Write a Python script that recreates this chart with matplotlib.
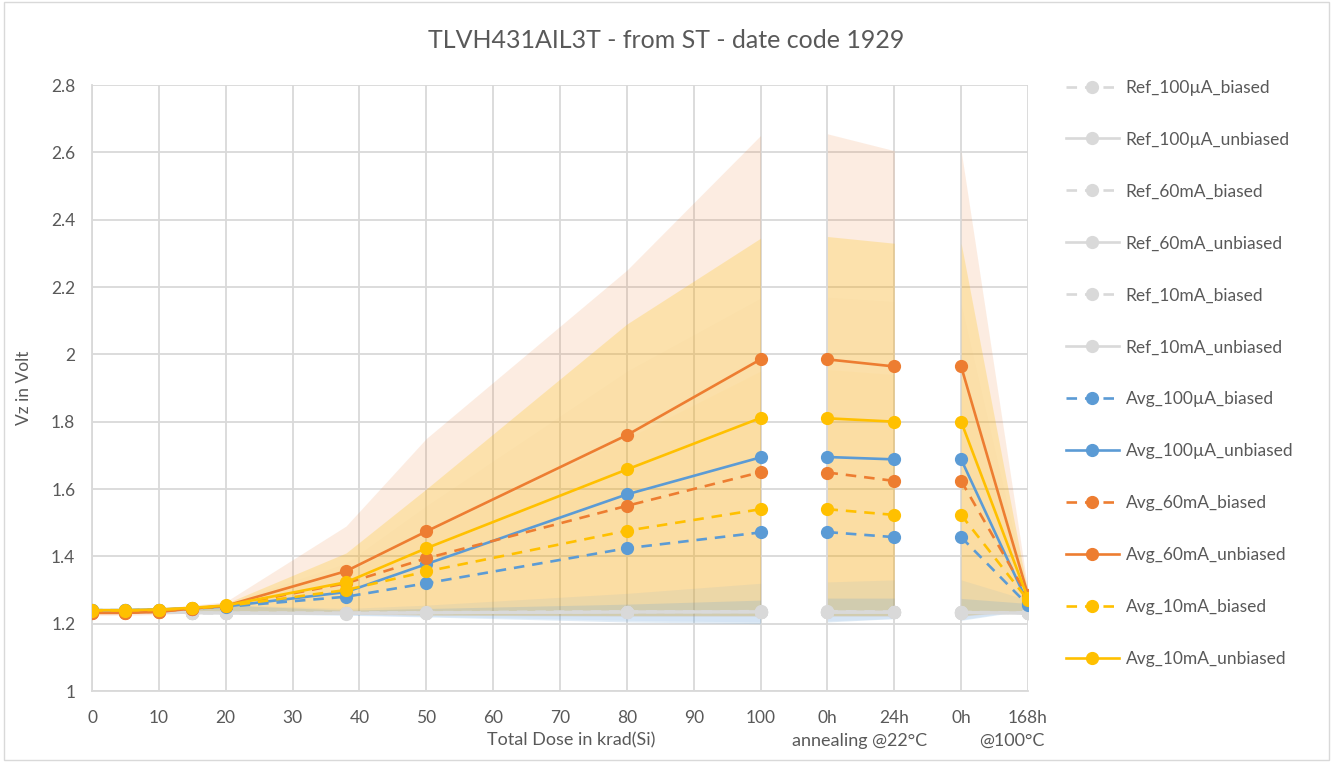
import numpy as np
import matplotlib
matplotlib.use("Agg")
import matplotlib.pyplot as plt
from matplotlib.patches import Rectangle

plt.rcParams['font.family'] = ['Lato', 'DejaVu Sans']

# x positions: dose in krad, then annealing steps placed at 110..140
x = [0, 5, 10, 15, 20, 38, 50, 80, 100, 110, 120, 130, 140]
xtick_pos = [0, 10, 20, 30, 40, 50, 60, 70, 80, 90, 100, 110, 120, 130, 140]
xtick_lbl = ['0', '10', '20', '30', '40', '50', '60', '70', '80', '90', '100', '0h', '24h', '0h', '168h']
segments = [(0, 9), (9, 11), (11, 13)]  # dose / annealing 22C / annealing 100C

ref_100uA_b = [1.238, 1.238, 1.238, 1.232, 1.232, 1.232, 1.234, 1.236, 1.236, 1.236, 1.236, 1.234, 1.232]
ref_100uA_u = [1.236, 1.236, 1.236, 1.233, 1.232, 1.231, 1.233, 1.235, 1.235, 1.235, 1.235, 1.233, 1.231]
ref_60mA_b = [1.237, 1.237, 1.237, 1.231, 1.231, 1.231, 1.232, 1.234, 1.235, 1.235, 1.235, 1.233, 1.232]
ref_60mA_u = [1.235, 1.235, 1.235, 1.232, 1.231, 1.230, 1.232, 1.234, 1.234, 1.234, 1.234, 1.232, 1.231]
ref_10mA_b = [1.238, 1.238, 1.238, 1.233, 1.233, 1.232, 1.233, 1.236, 1.237, 1.237, 1.236, 1.235, 1.233]
ref_10mA_u = [1.236, 1.236, 1.236, 1.232, 1.232, 1.231, 1.232, 1.235, 1.236, 1.236, 1.235, 1.234, 1.232]

avg_100uA_b = [1.240, 1.240, 1.241, 1.245, 1.250, 1.280, 1.320, 1.424, 1.471, 1.472, 1.457, 1.457, 1.255]
avg_100uA_u = [1.240, 1.240, 1.242, 1.246, 1.251, 1.294, 1.377, 1.584, 1.694, 1.695, 1.688, 1.688, 1.260]
avg_60mA_b = [1.233, 1.233, 1.236, 1.245, 1.252, 1.320, 1.394, 1.550, 1.650, 1.649, 1.624, 1.624, 1.280]
avg_60mA_u = [1.232, 1.232, 1.235, 1.245, 1.253, 1.356, 1.474, 1.760, 1.985, 1.985, 1.964, 1.964, 1.285]
avg_10mA_b = [1.239, 1.239, 1.241, 1.246, 1.252, 1.300, 1.355, 1.476, 1.540, 1.540, 1.523, 1.523, 1.270]
avg_10mA_u = [1.240, 1.240, 1.242, 1.247, 1.254, 1.323, 1.424, 1.658, 1.811, 1.810, 1.800, 1.800, 1.275]

# spread of the individual parts (upper / lower envelope)
up_100uA_b = [1.245, 1.245, 1.246, 1.250, 1.255, 1.240, 1.245, 1.258, 1.270, 1.276, 1.276, 1.275, 1.260]
lo_100uA_b = [1.232, 1.232, 1.232, 1.230, 1.230, 1.225, 1.220, 1.205, 1.200, 1.205, 1.215, 1.210, 1.240]
up_100uA_u = [1.245, 1.245, 1.246, 1.250, 1.256, 1.245, 1.255, 1.290, 1.320, 1.324, 1.330, 1.330, 1.270]
lo_100uA_u = [1.232, 1.232, 1.232, 1.230, 1.230, 1.226, 1.222, 1.210, 1.205, 1.208, 1.215, 1.212, 1.242]
up_60mA_b = [1.240, 1.240, 1.243, 1.252, 1.260, 1.380, 1.550, 1.950, 2.167, 2.170, 2.157, 2.150, 1.290]
lo_60mA_b = [1.226, 1.226, 1.228, 1.232, 1.236, 1.230, 1.228, 1.225, 1.225, 1.225, 1.225, 1.225, 1.240]
up_60mA_u = [1.240, 1.240, 1.245, 1.255, 1.265, 1.490, 1.750, 2.250, 2.650, 2.655, 2.605, 2.605, 1.300]
lo_60mA_u = [1.225, 1.225, 1.227, 1.232, 1.236, 1.228, 1.225, 1.222, 1.222, 1.222, 1.222, 1.222, 1.240]
up_10mA_b = [1.244, 1.244, 1.246, 1.251, 1.258, 1.350, 1.470, 1.750, 1.950, 1.955, 1.940, 1.935, 1.285]
lo_10mA_b = [1.232, 1.232, 1.233, 1.235, 1.238, 1.232, 1.228, 1.226, 1.226, 1.226, 1.226, 1.226, 1.240]
up_10mA_u = [1.245, 1.245, 1.247, 1.253, 1.260, 1.410, 1.600, 2.090, 2.345, 2.350, 2.330, 2.330, 1.290]
lo_10mA_u = [1.232, 1.232, 1.233, 1.235, 1.238, 1.230, 1.226, 1.224, 1.224, 1.224, 1.224, 1.224, 1.240]

blue = '#5B9BD5'
orange = '#ED7D31'
yellow = '#FFC000'
gray = '#D9D9D9'
txt = '#595959'

fig = plt.figure(figsize=(13.33, 7.62), dpi=100)
ax = fig.add_axes([92 / 1333, 1 - 691 / 762, (1028 - 92) / 1333, (691 - 85) / 762])

x = np.array(x)

# bands first (widest drawn first)
bands = [
    (up_60mA_u, lo_60mA_u, orange, 0.14),
    (up_60mA_b, lo_60mA_b, orange, 0.025),
    (up_10mA_u, lo_10mA_u, yellow, 0.23),
    (up_10mA_b, lo_10mA_b, yellow, 0.035),
    (up_100uA_u, lo_100uA_u, blue, 0.09),
    (up_100uA_b, lo_100uA_b, blue, 0.18),
]
for up, lo, c, a in bands:
    for s, e in segments:
        ax.fill_between(x[s:e], lo[s:e], up[s:e], color=c, alpha=a, lw=0, zorder=1)

series = [
    ('Ref_100µA_biased', ref_100uA_b, gray, '--'),
    ('Ref_100µA_unbiased', ref_100uA_u, gray, '-'),
    ('Ref_60mA_biased', ref_60mA_b, gray, '--'),
    ('Ref_60mA_unbiased', ref_60mA_u, gray, '-'),
    ('Ref_10mA_biased', ref_10mA_b, gray, '--'),
    ('Ref_10mA_unbiased', ref_10mA_u, gray, '-'),
    ('Avg_100µA_biased', avg_100uA_b, blue, '--'),
    ('Avg_100µA_unbiased', avg_100uA_u, blue, '-'),
    ('Avg_60mA_biased', avg_60mA_b, orange, '--'),
    ('Avg_60mA_unbiased', avg_60mA_u, orange, '-'),
    ('Avg_10mA_biased', avg_10mA_b, yellow, '--'),
    ('Avg_10mA_unbiased', avg_10mA_u, yellow, '-'),
]

handles = []
for i, (name, vals, c, ls) in enumerate(series):
    vals = np.array(vals)
    for s, e in segments:
        l, = ax.plot(x[s:e], vals[s:e], color=c, ls=ls, lw=1.9, marker='o', ms=8.5,
                     mec=c, mfc=c, zorder=3 + i * 0.1, dashes=(4, 3) if ls == '--' else (None, None))
    handles.append(l)

ax.set_xlim(0, 140)
ax.set_ylim(1, 2.8)
ax.set_xticks(xtick_pos)
ax.set_xticklabels(xtick_lbl)
ax.set_yticks(np.arange(1, 2.81, 0.2))
ax.set_yticklabels(['1', '1.2', '1.4', '1.6', '1.8', '2', '2.2', '2.4', '2.6', '2.8'])
ax.grid(True, color=gray, lw=1.3, zorder=0)
ax.set_axisbelow(True)
for sp in ['top', 'right']:
    ax.spines[sp].set_visible(False)
for sp in ['left', 'bottom']:
    ax.spines[sp].set_color(gray)
    ax.spines[sp].set_linewidth(1.3)
ax.tick_params(length=0, labelsize=12.5, colors=txt)
ax.tick_params(axis='x', pad=14)
ax.tick_params(axis='y', pad=12)

ax.set_ylabel('Vz in Volt', fontsize=12.5, color=txt, labelpad=14)
fig.text(0.5, 1 - 41 / 762, 'TLVH431AIL3T - from ST - date code 1929', ha='center', va='center',
         fontsize=18, color=txt)
fig.text(571 / 1333, 1 - 740 / 762, 'Total Dose in krad(Si)', ha='center', va='center', fontsize=13, color=txt)
fig.text(860 / 1333, 1 - 741 / 762, 'annealing @22°C', ha='center', va='center', fontsize=13, color=txt)
fig.text(1012 / 1333, 1 - 741 / 762, '@100°C', ha='center', va='center', fontsize=13, color=txt)

leg = fig.legend(handles, [s[0] for s in series], loc='upper left',
                 bbox_to_anchor=(1050 / 1333, 1 - 64 / 762), frameon=False,
                 fontsize=12.5, labelspacing=2.07, handlelength=3.05, handletextpad=0.4)
for t in leg.get_texts():
    t.set_color(txt)

fig.patches.append(Rectangle((0.003, 0.003), 0.994, 0.994, transform=fig.transFigure,
                             fill=False, ec=gray, lw=1))

fig.savefig('out.png', dpi=100)
